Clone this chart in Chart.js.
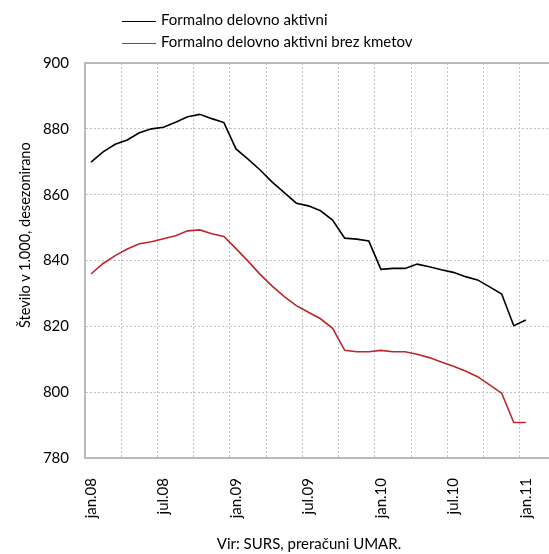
<!DOCTYPE html>
<html lang="sl">
<head>
  <meta charset="UTF-8">
  <title>Formalno delovno aktivni</title>
  <style>
    html, body { margin: 0; padding: 0; background: #fff; overflow: hidden; }
    body { width: 549px; height: 554px; position: relative; font-family: Lato, sans-serif; color: #000; }
    .chart-box { position: absolute; left: 0; top: 0; width: 588px; height: 554px; }
    .legend { position: absolute; left: 122px; top: 8px; font-size: 15px; }
    .legend div { height: 22px; line-height: 22px; white-space: nowrap; }
    .legend i { display: inline-block; width: 34px; height: 0; border-top: 1.5px solid; vertical-align: middle; margin-right: 5px; }
    .ytitle { position: absolute; left: 16px; top: 328px; transform-origin: 0 0; transform: rotate(-90deg); font-size: 14.5px; font-weight: normal; line-height: 18px; white-space: nowrap; color: #000; }
    .source { position: absolute; left: 309px; top: 534px; transform: translateX(-50%); font-size: 15px; white-space: nowrap; }
  </style>
</head>
<body>
  <div class="chart-box"><canvas id="chart"></canvas></div>
  <div class="legend">
    <div><i style="border-color:#000"></i>Formalno delovno aktivni</div>
    <div><i style="border-color:#b8282c"></i>Formalno delovno aktivni brez kmetov</div>
  </div>
  <div class="ytitle">Število v 1.000, desezonirano</div>
  <div class="source">Vir: SURS, preračuni UMAR.</div>

  <script src="https://cdn.jsdelivr.net/npm/chart.js"></script>
  <script>
    // months jan.08 .. jan.11, plus two empty months the plot area runs into
    const months = [
      'jan.08', 'feb.08', 'mar.08', 'apr.08', 'maj.08', 'jun.08', 'jul.08', 'avg.08', 'sep.08', 'okt.08', 'nov.08', 'dec.08',
      'jan.09', 'feb.09', 'mar.09', 'apr.09', 'maj.09', 'jun.09', 'jul.09', 'avg.09', 'sep.09', 'okt.09', 'nov.09', 'dec.09',
      'jan.10', 'feb.10', 'mar.10', 'apr.10', 'maj.10', 'jun.10', 'jul.10', 'avg.10', 'sep.10', 'okt.10', 'nov.10', 'dec.10',
      'jan.11', 'feb.11', 'mar.11'
    ];

    const aktivni = [
      869.9, 873.0, 875.3, 876.6, 878.8, 880.0, 880.5, 882.0, 883.7, 884.4, 883.1, 881.9,
      873.9, 870.8, 867.5, 863.8, 860.6, 857.4, 856.6, 855.1, 852.3, 846.8, 846.5, 845.9,
      837.3, 837.6, 837.6, 838.9, 838.1, 837.2, 836.4, 835.1, 834.1, 832.0, 829.8, 820.2,
      821.9
    ];

    const brezKmetov = [
      835.9, 839.1, 841.5, 843.5, 845.1, 845.7, 846.6, 847.5, 849.0, 849.3, 848.1, 847.3,
      843.6, 839.8, 835.8, 832.2, 829.0, 826.3, 824.3, 822.3, 819.4, 812.7, 812.3, 812.3,
      812.7, 812.3, 812.3, 811.5, 810.5, 809.2, 807.9, 806.4, 804.7, 802.2, 799.7, 790.8,
      790.8
    ];

    const yTicks = [780, 800, 820, 840, 860, 880, 900];

    const gridGray = '#c4c4c4';
    const axisGray = '#b9b9b9';

    // solid top edge of the plot area
    const topEdge = {
      id: 'topEdge',
      afterDatasetsDraw(chart) {
        const { ctx, chartArea } = chart;
        ctx.save();
        ctx.strokeStyle = axisGray;
        ctx.lineWidth = 2;
        ctx.beginPath();
        ctx.moveTo(chartArea.left, chartArea.top);
        ctx.lineTo(chartArea.right, chartArea.top);
        ctx.stroke();
        ctx.restore();
      }
    };

    new Chart(document.getElementById('chart'), {
      type: 'line',
      data: {
        labels: months,
        datasets: [
          {
            label: 'Formalno delovno aktivni',
            data: aktivni,
            borderColor: '#000',
            borderWidth: 1.6,
            pointRadius: 0,
            tension: 0
          },
          {
            label: 'Formalno delovno aktivni brez kmetov',
            data: brezKmetov,
            borderColor: '#b8282c',
            borderWidth: 1.6,
            pointRadius: 0,
            tension: 0
          }
        ]
      },
      options: {
        responsive: true,
        maintainAspectRatio: false,
        animation: false,
        layout: { padding: { top: 63, right: 0, bottom: 0, left: 0 } },
        plugins: {
          legend: { display: false },
          tooltip: { enabled: false }
        },
        scales: {
          x: {
            offset: true,
            afterFit: s => { s.height = 96; },
            grid: {
              offset: true,
              drawTicks: false,
              lineWidth: 1,
              color: c => (c.index > 0 && c.index % 3 === 0) ? gridGray : 'rgba(0,0,0,0)'
            },
            border: { color: axisGray, width: 2, dash: [2, 2] },
            ticks: {
              autoSkip: false,
              minRotation: 90,
              maxRotation: 90,
              padding: 20,
              color: '#000',
              font: { family: 'Lato', size: 15 },
              callback: (v, i) => (i % 6 === 0 && i < 37) ? months[i] : ''
            }
          },
          y: {
            min: yTicks[0],
            max: yTicks[yTicks.length - 1],
            afterFit: s => { s.width = 85; },
            afterBuildTicks: s => { s.ticks = yTicks.map(v => ({ value: v })); },
            grid: {
              drawTicks: false,
              lineWidth: 1,
              color: c => (c.index > 0 && c.index < yTicks.length - 1) ? gridGray : 'rgba(0,0,0,0)'
            },
            border: { color: axisGray, width: 2, dash: [2, 2] },
            ticks: {
              padding: 16,
              color: '#000',
              font: { family: 'Lato', size: 15 }
            }
          }
        }
      },
      plugins: [topEdge]
    });
  </script>
</body>
</html>
